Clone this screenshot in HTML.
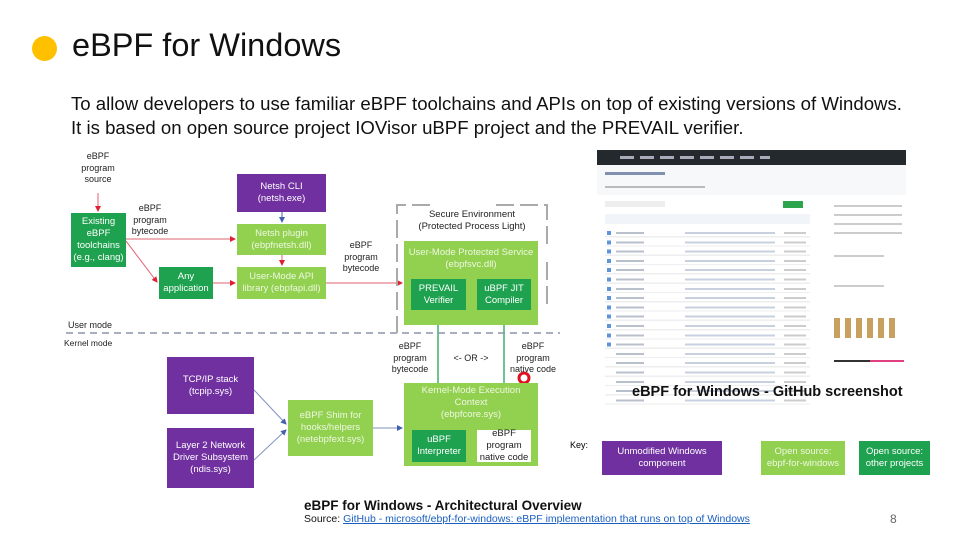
<!DOCTYPE html>
<html><head><meta charset="utf-8"><style>
body{margin:0;width:968px;height:541px;background:#fff;position:relative;overflow:hidden;font-family:"Liberation Sans",sans-serif}
.a{position:absolute}
.b{position:absolute;display:flex;align-items:center;justify-content:center;text-align:center;color:#fff;font-size:9.5px;line-height:12px;box-sizing:border-box}
.dg{background:#1ea24f}.lg{background:#92d050;color:#eef8e0}.pu{background:#7030a0}
.l{position:absolute;font-size:9px;line-height:11.5px;color:#222;text-align:center}
</style></head><body>
<div class="a" style="left:32px;top:36px;width:25px;height:25px;border-radius:50%;background:#ffc000"></div>
<div class="a" style="left:72px;top:27px;font-size:32.5px;color:#111">eBPF for Windows</div>
<div class="a" style="left:71px;top:92px;font-size:18.6px;line-height:24px;color:#111;white-space:nowrap">To allow developers to use familiar eBPF toolchains and APIs on top of existing versions of Windows.<br>It is based on open source project IOVisor uBPF project and the PREVAIL verifier.</div>

<svg class="a" style="left:0;top:0" width="968" height="541">
<defs>
<marker id="r" markerWidth="6" markerHeight="6" refX="5" refY="3" orient="auto"><path d="M0,0L6,3L0,6z" fill="#e02030"/></marker>
<marker id="g" markerWidth="6" markerHeight="6" refX="5" refY="3" orient="auto"><path d="M0,0L6,3L0,6z" fill="#2aa050"/></marker>
<marker id="bl" markerWidth="6" markerHeight="6" refX="5" refY="3" orient="auto"><path d="M0,0L6,3L0,6z" fill="#4060b0"/></marker>
</defs>
<g stroke="#e06070" stroke-width="1" fill="none">
<line x1="98" y1="193" x2="98" y2="211" marker-end="url(#r)"/>
<line x1="126" y1="239" x2="235" y2="239" marker-end="url(#r)"/>
<line x1="126" y1="241" x2="157" y2="282" marker-end="url(#r)"/>
<line x1="213" y1="283" x2="235" y2="283" marker-end="url(#r)"/>
<line x1="282" y1="255" x2="282" y2="265" marker-end="url(#r)"/>
<line x1="326" y1="283" x2="402" y2="283" marker-end="url(#r)"/>
</g>
<line x1="282" y1="212" x2="282" y2="222" stroke="#4060b0" marker-end="url(#bl)"/>
<line x1="466" y1="296" x2="475" y2="296" stroke="#2aa050" marker-end="url(#g)"/>
<line x1="438" y1="310" x2="438" y2="428" stroke="#40b070" stroke-width="1.5" marker-end="url(#g)"/>
<line x1="504" y1="310" x2="504" y2="428" stroke="#40b070" stroke-width="1.5" marker-end="url(#g)"/>
<line x1="66" y1="333" x2="560" y2="333" stroke="#8a94a8" stroke-width="1.5" stroke-dasharray="7,5"/>
<path d="M430,205H397V333M496,205H547V250M547,262V310" stroke="#aaa" stroke-width="2" fill="none" stroke-dasharray="18,6"/>
<g stroke="#8090c0" fill="none"><line x1="254" y1="390" x2="286" y2="424" marker-end="url(#bl)"/><line x1="254" y1="460" x2="286" y2="430" marker-end="url(#bl)"/><line x1="373" y1="428" x2="402" y2="428" marker-end="url(#bl)"/></g>
<circle cx="524" cy="378" r="5" fill="#fff" stroke="#e01020" stroke-width="3"/>
</svg>

<div class="l" style="left:76px;top:151px;width:44px">eBPF<br>program<br>source</div>
<div class="l" style="left:128px;top:203px;width:44px">eBPF<br>program<br>bytecode</div>
<div class="l" style="left:336px;top:240px;width:50px">eBPF<br>program<br>bytecode</div>
<div class="l" style="left:383px;top:341px;width:54px">eBPF<br>program<br>bytecode</div>
<div class="l" style="left:446px;top:353px;width:50px">&lt;- OR -&gt;</div>
<div class="l" style="left:506px;top:341px;width:54px">eBPF<br>program<br>native code</div>
<div class="l" style="left:414px;top:209px;width:116px;font-size:9.5px">Secure Environment<br>(Protected Process Light)</div>
<div class="a" style="left:68px;top:320px;font-size:9px;color:#222">User mode</div>
<div class="a" style="left:64px;top:338px;font-size:8.5px;color:#222">Kernel mode</div>

<div class="b dg" style="left:71px;top:213px;width:55px;height:54px">Existing<br>eBPF<br>toolchains<br>(e.g., clang)</div>
<div class="b dg" style="left:159px;top:267px;width:54px;height:32px">Any<br>application</div>
<div class="b pu" style="left:237px;top:174px;width:89px;height:38px">Netsh CLI<br>(netsh.exe)</div>
<div class="b lg" style="left:237px;top:224px;width:89px;height:31px">Netsh plugin<br>(ebpfnetsh.dll)</div>
<div class="b lg" style="left:237px;top:267px;width:89px;height:32px">User-Mode API<br>library (ebpfapi.dll)</div>
<div class="b lg" style="left:404px;top:241px;width:134px;height:84px;align-items:flex-start;padding-top:6px">User-Mode Protected Service<br>(ebpfsvc.dll)</div>
<div class="b dg" style="left:411px;top:279px;width:55px;height:31px">PREVAIL<br>Verifier</div>
<div class="b dg" style="left:477px;top:279px;width:54px;height:31px">uBPF JIT<br>Compiler</div>
<div class="b pu" style="left:167px;top:357px;width:87px;height:57px">TCP/IP stack<br>(tcpip.sys)</div>
<div class="b pu" style="left:167px;top:428px;width:87px;height:60px">Layer 2 Network<br>Driver Subsystem<br>(ndis.sys)</div>
<div class="b lg" style="left:288px;top:400px;width:85px;height:56px">eBPF Shim for<br>hooks/helpers<br>(netebpfext.sys)</div>
<div class="b lg" style="left:404px;top:383px;width:134px;height:83px;align-items:flex-start;padding-top:2px">Kernel-Mode Execution<br>Context<br>(ebpfcore.sys)</div>
<div class="b dg" style="left:412px;top:430px;width:54px;height:32px">uBPF<br>Interpreter</div>
<div class="b" style="left:477px;top:430px;width:54px;height:32px;background:#fff;color:#222">eBPF<br>program<br>native code</div>

<div class="a" style="left:570px;top:440px;font-size:9px">Key:</div>
<div class="b pu" style="left:602px;top:441px;width:120px;height:34px;font-size:9.5px">Unmodified Windows<br>component</div>
<div class="b lg" style="left:761px;top:441px;width:84px;height:34px">Open source:<br>ebpf-for-windows</div>
<div class="b dg" style="left:859px;top:441px;width:71px;height:34px">Open source:<br>other projects</div>

<!-- GitHub screenshot -->
<div class="a" style="left:597px;top:150px;width:309px;height:15px;background:#24292e"></div>
<div class="a" style="left:620px;top:156px;width:150px;height:3px;background:repeating-linear-gradient(90deg,#aab 0,#aab 14px,transparent 14px,transparent 20px)"></div>
<div class="a" style="left:597px;top:165px;width:309px;height:30px;background:#f6f8fa"></div>
<div class="a" style="left:605px;top:172px;width:60px;height:3px;background:#8090b0"></div>
<div class="a" style="left:605px;top:186px;width:100px;height:2px;background:#bbb"></div>
<div class="a" style="left:783px;top:201px;width:20px;height:7px;background:#2da44e"></div>
<div class="a" style="left:605px;top:201px;width:60px;height:6px;background:#eee"></div>
<div class="a" style="left:605px;top:214px;width:205px;height:10px;background:#f1f4f8"></div>
<div class="a" style="left:605px;top:228px;width:205px;height:182px;background:repeating-linear-gradient(#fff 0,#fff 8px,#eee 8px,#eee 9.3px)"></div>
<div class="a" style="left:607px;top:231px;width:4px;height:120px;background:repeating-linear-gradient(#5f95d8 0,#5f95d8 4px,transparent 4px,transparent 9.3px)"></div>
<div class="a" style="left:616px;top:232px;width:28px;height:175px;background:repeating-linear-gradient(#b8c0cc 0,#b8c0cc 2px,transparent 2px,transparent 9.3px)"></div>
<div class="a" style="left:685px;top:232px;width:90px;height:175px;background:repeating-linear-gradient(#c8d0e0 0,#c8d0e0 2px,transparent 2px,transparent 9.3px)"></div>
<div class="a" style="left:784px;top:232px;width:22px;height:175px;background:repeating-linear-gradient(#ccc 0,#ccc 2px,transparent 2px,transparent 9.3px)"></div>
<div class="a" style="left:834px;top:205px;width:68px;height:30px;background:repeating-linear-gradient(#ccc 0,#ccc 2px,transparent 2px,transparent 9px)"></div>
<div class="a" style="left:834px;top:255px;width:50px;height:2px;background:#ccc"></div>
<div class="a" style="left:834px;top:285px;width:50px;height:2px;background:#ccc"></div>
<div class="a" style="left:834px;top:318px;width:66px;height:20px;background:repeating-linear-gradient(90deg,#c8a060 0,#c8a060 6px,transparent 6px,transparent 11px)"></div>
<div class="a" style="left:834px;top:360px;width:36px;height:2px;background:#333"></div>
<div class="a" style="left:870px;top:360px;width:34px;height:2px;background:#e04080"></div>
<div class="a" style="left:632px;top:384px;font-size:14.5px;font-weight:bold;color:#111;white-space:nowrap">eBPF for Windows - GitHub screenshot</div>

<div class="a" style="left:304px;top:498px;font-size:13.5px;font-weight:bold;color:#111">eBPF for Windows - Architectural Overview</div>
<div class="a" style="left:304px;top:513px;font-size:10.5px;color:#111;white-space:nowrap">Source: <span style="color:#1a5fc0;text-decoration:underline">GitHub - microsoft/ebpf-for-windows: eBPF implementation that runs on top of Windows</span></div>
<div class="a" style="left:890px;top:512px;font-size:12px;color:#666">8</div>
</body></html>
